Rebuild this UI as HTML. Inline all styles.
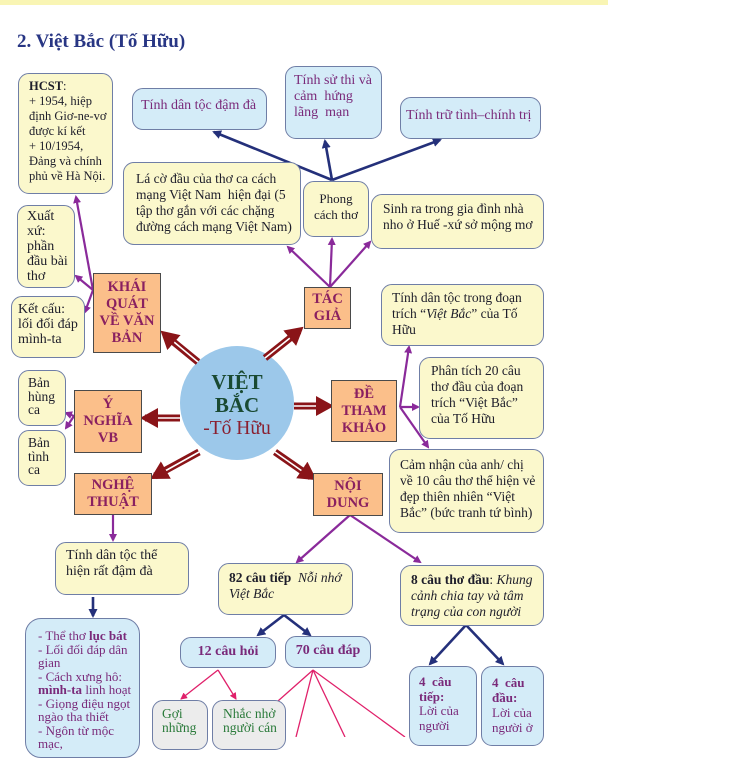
<!DOCTYPE html>
<html><head><meta charset="utf-8"><style>
body{margin:0;width:737px;height:737px;overflow:hidden;background:#fff;position:relative;font-family:"Liberation Serif","DejaVu Serif",serif}
.b{position:absolute;box-sizing:border-box;border:1.3px solid #6f7ea6;border-radius:11px;font-size:13px;line-height:15px;color:#1d1d2a;padding:4px 7px;overflow:hidden}
.y{background:#fbf8cc}
.bl{background:#d4ecf8;color:#7a2a7a}
.g{background:#ececec;color:#2a7a3a}
.o{position:absolute;box-sizing:border-box;background:#fbbf8a;border:1.5px solid #4a4a4a;color:#8a2060;font-weight:bold;font-size:14.5px;line-height:17px;text-align:center;display:flex;align-items:center;justify-content:center}
svg{position:absolute;left:0;top:0}
</style></head><body>
<div style="position:absolute;left:0;top:0;width:608px;height:5px;background:#f9f5b4"></div>
<div style="position:absolute;left:17px;top:31px;font-size:19px;font-weight:bold;color:#283684">2. Việt Bắc (Tố Hữu)</div>

<svg width="737" height="737" viewBox="0 0 737 737">
<defs>
<marker id="pu" markerWidth="8" markerHeight="8" refX="6" refY="4" orient="auto" markerUnits="userSpaceOnUse"><path d="M0,0 L8,4 L0,8 Z" fill="#8a2a9a"/></marker>
<marker id="nv" markerWidth="9" markerHeight="9" refX="7" refY="4.5" orient="auto" markerUnits="userSpaceOnUse"><path d="M0,0 L9,4.5 L0,9 Z" fill="#24307a"/></marker>
<marker id="pk" markerWidth="7" markerHeight="7" refX="6" refY="3.5" orient="auto" markerUnits="userSpaceOnUse"><path d="M0,0 L7,3.5 L0,7 Z" fill="#e0206a"/></marker>
<marker id="rd" markerWidth="18" markerHeight="20" refX="16" refY="10" orient="auto" markerUnits="userSpaceOnUse"><path d="M0,0 L18,10 L0,20 Z" fill="#8a1418"/></marker>
</defs>
<g stroke="#8a2a9a" stroke-width="2.2" fill="none" marker-end="url(#pu)">
<line x1="93" y1="290" x2="76" y2="197"/>
<line x1="93" y1="290" x2="76" y2="276"/>
<line x1="93" y1="290" x2="85" y2="312"/>
<line x1="330" y1="287" x2="288" y2="247"/>
<line x1="330" y1="287" x2="332" y2="239"/>
<line x1="330" y1="287" x2="370" y2="242"/>
<line x1="400" y1="407" x2="409" y2="347"/>
<line x1="400" y1="407" x2="418" y2="407"/>
<line x1="400" y1="407" x2="428" y2="447"/>
<line x1="74" y1="416" x2="66" y2="413"/>
<line x1="74" y1="416" x2="66" y2="428"/>
<line x1="113" y1="514" x2="113" y2="540"/>
<line x1="350" y1="515" x2="297" y2="562"/>
<line x1="350" y1="515" x2="420" y2="562"/>
</g>
<g stroke="#24307a" stroke-width="2.6" fill="none" marker-end="url(#nv)">
<line x1="332" y1="180" x2="214" y2="132"/>
<line x1="332" y1="180" x2="325" y2="141"/>
<line x1="332" y1="180" x2="440" y2="140"/>
<line x1="93" y1="597" x2="93" y2="616"/>
<line x1="284" y1="615" x2="258" y2="635"/>
<line x1="284" y1="615" x2="310" y2="635"/>
<line x1="466" y1="625" x2="430" y2="664"/>
<line x1="466" y1="625" x2="503" y2="664"/>
</g>
<g stroke="#e0206a" stroke-width="1.3" fill="none">
<line x1="218" y1="670" x2="181" y2="699" marker-end="url(#pk)"/>
<line x1="218" y1="670" x2="236" y2="699" marker-end="url(#pk)"/>
<line x1="313" y1="670" x2="278" y2="701"/>
<line x1="313" y1="670" x2="296" y2="737"/>
<line x1="313" y1="670" x2="345" y2="737"/>
<line x1="313" y1="670" x2="405" y2="737"/>
</g>
<circle cx="237" cy="403" r="57" fill="#9cc8ea"/>
<g fill="none">
<g stroke="#8a1418" stroke-width="7">
<line x1="198" y1="362" x2="165" y2="335"/><line x1="265" y1="358" x2="299" y2="331"/>
<line x1="294" y1="406" x2="328" y2="406"/><line x1="180" y1="418" x2="145" y2="418"/>
<line x1="199" y1="452" x2="155" y2="476"/><line x1="275" y1="452" x2="311" y2="477"/>
</g>
<g stroke="#fff" stroke-width="1.6">
<line x1="198" y1="362" x2="174" y2="342"/><line x1="265" y1="358" x2="290" y2="338"/>
<line x1="294" y1="406" x2="318" y2="406"/><line x1="180" y1="418" x2="155" y2="418"/>
<line x1="199" y1="452" x2="165" y2="471"/><line x1="275" y1="452" x2="302" y2="471"/>
</g>
<g stroke="transparent" stroke-width="1" marker-end="url(#rd)">
<line x1="180" y1="348" x2="162" y2="332"/><line x1="284" y1="343" x2="302" y2="328"/>
<line x1="312" y1="406" x2="332" y2="406"/><line x1="162" y1="418" x2="142" y2="418"/>
<line x1="173" y1="466" x2="152" y2="478"/><line x1="296" y1="466" x2="315" y2="479"/>
</g>
</g>
<text x="237" y="389" text-anchor="middle" font-family="Liberation Serif,serif" font-weight="bold" font-size="21" fill="#1a4a32">VIỆT</text>
<text x="237" y="412" text-anchor="middle" font-family="Liberation Serif,serif" font-weight="bold" font-size="21" fill="#1a4a32">BẮC</text>
<text x="237" y="434" text-anchor="middle" font-family="Liberation Serif,serif" font-size="19.5" fill="#8a2030">-Tố Hữu</text>
</svg>

<div class="b y" style="left:18px;top:73px;width:95px;height:121px;padding:5px 5px 4px 10px;font-size:12.5px;line-height:15px"><b>HCST</b>:<br>+ 1954, hiệp định Giơ-ne-vơ được kí kết<br>+ 10/1954, Đảng và chính phủ về Hà Nội.</div>
<div class="b y" style="left:17px;top:205px;width:58px;height:83px;padding:3px 4px 3px 9px;font-size:14px;line-height:15px">Xuất xứ: phần đầu bài thơ</div>
<div class="b y" style="left:11px;top:296px;width:74px;height:62px;padding:5px 4px 5px 6px;font-size:14px;line-height:15px">Kết cấu: lối đối đáp mình-ta</div>
<div class="o" style="left:93px;top:273px;width:68px;height:80px">KHÁI<br>QUÁT<br>VỀ VĂN<br>BẢN</div>

<div class="b bl" style="left:132px;top:88px;width:135px;height:42px;padding:9px 8px;font-size:14px">Tính dân tộc đậm đà</div>
<div class="b bl" style="left:285px;top:66px;width:97px;height:73px;padding:6px 8px;font-size:14px;line-height:16px">Tính sử thi và cảm&nbsp; hứng lãng&nbsp; mạn</div>
<div class="b bl" style="left:400px;top:97px;width:141px;height:42px;padding:10px 5px;font-size:14px">Tính trữ tình–chính trị</div>

<div class="b y" style="left:123px;top:162px;width:178px;height:83px;padding:8px 8px 6px 12px;font-size:13.5px;line-height:16px">Lá cờ đầu của thơ ca cách mạng Việt Nam&nbsp; hiện đại (5 tập thơ gắn với các chặng đường cách mạng Việt Nam)</div>
<div class="b y" style="left:303px;top:181px;width:66px;height:56px;padding:9px 3px;font-size:13px;text-align:center;line-height:16px">Phong cách thơ</div>
<div class="b y" style="left:371px;top:194px;width:173px;height:55px;padding:6px 7px 6px 11px;font-size:13.5px;line-height:16px">Sinh ra trong gia đình nhà nho ở Huế -xứ sở mộng mơ</div>
<div class="o" style="left:304px;top:287px;width:47px;height:42px">TÁC<br>GIẢ</div>

<div class="b y" style="left:381px;top:284px;width:163px;height:62px;padding:5px 7px 5px 10px;font-size:13.5px;line-height:16px">Tính dân tộc trong đoạn trích “<i>Việt Bắc</i>” của Tố Hữu</div>
<div class="b y" style="left:419px;top:357px;width:125px;height:82px;padding:5px 6px 5px 11px;font-size:13.5px;line-height:16px">Phân tích 20 câu thơ đầu của đoạn trích “Việt Bắc” của Tố Hữu</div>
<div class="o" style="left:331px;top:380px;width:66px;height:62px">ĐỀ<br>THAM<br>KHẢO</div>
<div class="b y" style="left:389px;top:449px;width:155px;height:84px;padding:7px 6px 6px 10px;font-size:13.5px;line-height:16px">Cảm nhận của anh/ chị về 10 câu thơ thể hiện vẻ đẹp thiên nhiên “Việt Bắc” (bức tranh tứ bình)</div>

<div class="b y" style="left:18px;top:370px;width:48px;height:56px;padding:5px 4px 5px 9px;font-size:13.5px;line-height:13.5px">Bản hùng ca</div>
<div class="b y" style="left:18px;top:430px;width:48px;height:56px;padding:5px 4px 5px 9px;font-size:13.5px;line-height:13.5px">Bản tình ca</div>
<div class="o" style="left:74px;top:390px;width:68px;height:63px">Ý<br>NGHĨA<br>VB</div>
<div class="o" style="left:74px;top:473px;width:78px;height:42px">NGHỆ<br>THUẬT</div>
<div class="o" style="left:313px;top:473px;width:70px;height:43px">NỘI<br>DUNG</div>

<div class="b y" style="left:55px;top:542px;width:134px;height:53px;padding:5px 6px 5px 10px;font-size:14px;line-height:16px">Tính dân tộc thể hiện rất đậm đà</div>
<div class="b bl" style="left:25px;top:618px;width:115px;height:140px;border-radius:16px;padding:10px 4px 0 12px;font-size:13px;line-height:13.5px">- Thể thơ <b>lục bát</b><br>- Lối đối đáp dân gian<br>- Cách xưng hô: <b>mình-ta</b> linh hoạt<br>- Giọng điệu ngọt ngào tha thiết<br>- Ngôn từ mộc mạc,</div>

<div class="b y" style="left:218px;top:563px;width:135px;height:52px;padding:6px 6px 6px 10px;font-size:13.5px;line-height:16px"><b>82 câu tiếp</b>&nbsp; <i>Nỗi nhớ Việt Bắc</i></div>
<div class="b y" style="left:400px;top:565px;width:144px;height:61px;padding:6px 6px 6px 10px;font-size:13.5px;line-height:16px"><b>8 câu thơ đầu</b>: <i>Khung cảnh chia tay và tâm trạng của con người</i></div>
<div class="b bl" style="left:180px;top:637px;width:96px;height:31px;padding:6px 0;text-align:center;font-weight:bold;font-size:14px">12 câu hỏi</div>
<div class="b bl" style="left:285px;top:636px;width:86px;height:32px;padding:6px 0;text-align:center;font-weight:bold;font-size:14px">70 câu đáp</div>
<div class="b g" style="left:152px;top:700px;width:56px;height:50px;padding:6px 4px 6px 9px;font-size:13.5px;line-height:14px">Gợi những</div>
<div class="b g" style="left:212px;top:700px;width:74px;height:50px;padding:6px 4px 6px 10px;font-size:13.5px;line-height:14px">Nhắc nhở người cán</div>
<div class="b bl" style="left:409px;top:666px;width:68px;height:80px;padding:8px 4px 8px 9px;font-size:13px;line-height:14.5px"><b>4&nbsp; câu tiếp:</b><br>Lời của người</div>
<div class="b bl" style="left:481px;top:666px;width:63px;height:80px;padding:8px 4px 8px 10px;font-size:13px;line-height:15px"><b>4&nbsp; câu đầu:</b><br>Lời của người ở</div>
</body></html>
